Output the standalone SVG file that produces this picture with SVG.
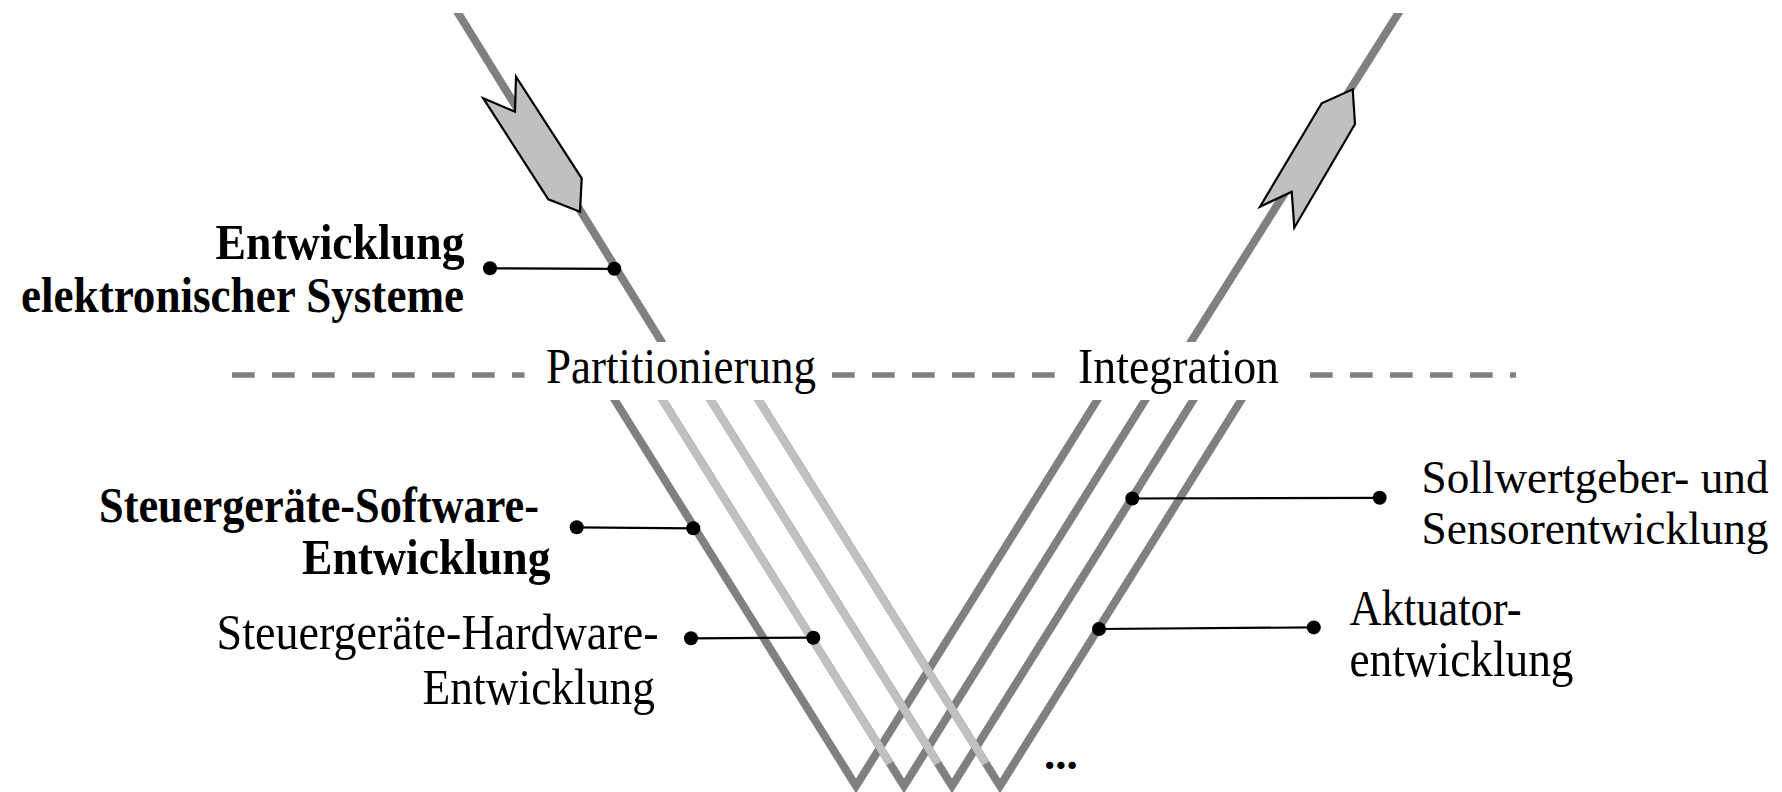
<svg xmlns="http://www.w3.org/2000/svg" width="1782" height="792" viewBox="0 0 1782 792">
  <style>
    .lbl { font-family: "Liberation Serif", "Times New Roman", serif; font-size: 51px; fill: #000; }
    .bold { font-weight: bold; }
    .edge { font-size: 46px; }
    .dark { fill: none; stroke: #808080; stroke-width: 8; stroke-linejoin: miter; stroke-miterlimit: 10; }
    .light { fill: none; stroke: #c0c0c0; stroke-width: 8; }
    .dash { stroke: #808080; stroke-width: 5.3; stroke-dasharray: 22.7 17.3; }
    .arrow { fill: #c0c0c0; stroke: #000; stroke-width: 2.2; stroke-linejoin: miter; }
    .lead { stroke: #000; stroke-width: 2.2; }
    .dot { fill: #000; }
  </style>
  <defs>
    <clipPath id="clipUpper"><rect x="0" y="13" width="1782" height="329"/></clipPath>
    <clipPath id="clipLower"><rect x="0" y="400" width="1782" height="392"/></clipPath>
  </defs>

  <!-- system level: descending and ascending branches with direction arrows -->
  <g id="system-branches" clip-path="url(#clipUpper)">
    <line class="dark" x1="450" y1="0" x2="666.6" y2="350"/>
    <line class="dark" x1="1406.7" y1="0" x2="1185.8" y2="350"/>
  </g>
  <g id="arrow-down">
    <polygon class="arrow" points="483.3,98.3 515,111.7 516,76.7 581.7,178.3 580,211.7 548.3,199.3"/>
  </g>
  <g id="arrow-up">
    <polygon class="arrow" points="1260,206.7 1291.7,191.7 1294.3,227.7 1355,124 1352.7,89.3 1321.7,103.3"/>
  </g>

  <!-- boundary between system level and component level -->
  <g id="boundary">
    <line class="dash" x1="232" y1="375" x2="524.5" y2="375"/>
    <line class="dash" x1="832" y1="375" x2="1055" y2="375"/>
    <line class="dash" x1="1310" y1="375" x2="1516" y2="375"/>
  </g>
  <g id="label-partitionierung"><text class="lbl" x="546" y="382.5" textLength="270" lengthAdjust="spacingAndGlyphs">Partitionierung</text></g>
  <g id="label-integration"><text class="lbl" x="1078" y="382.5" textLength="201" lengthAdjust="spacingAndGlyphs">Integration</text></g>

  <!-- component level: four parallel V branches -->
  <g id="component-branches" clip-path="url(#clipLower)">
    <polyline class="dark" points="611.6,395 856,786 1100.4,395"/>
    <polyline class="dark" points="659.6,395 904,786 1148.4,395"/>
    <polyline class="dark" points="707.6,395 952,786 1196.4,395"/>
    <polyline class="dark" points="755.6,395 1000,786 1244.4,395"/>
    <line class="light" x1="659.6" y1="395" x2="890" y2="763.4"/>
    <line class="light" x1="707.6" y1="395" x2="938" y2="763.4"/>
    <line class="light" x1="755.6" y1="395" x2="986" y2="763.4"/>
  </g>

  <g id="label-system">
    <text class="lbl bold" x="215.5" y="258.5" textLength="249" lengthAdjust="spacingAndGlyphs">Entwicklung</text>
    <text class="lbl bold" x="21" y="311.5" textLength="443" lengthAdjust="spacingAndGlyphs">elektronischer Systeme</text>
  </g>
  <g id="label-software">
    <text class="lbl bold" x="99" y="521.5" textLength="440" lengthAdjust="spacingAndGlyphs">Steuergeräte-Software-</text>
    <text class="lbl bold" x="302" y="573.5" textLength="248.5" lengthAdjust="spacingAndGlyphs">Entwicklung</text>
  </g>
  <g id="label-hardware">
    <text class="lbl" x="216.5" y="648.5" textLength="442" lengthAdjust="spacingAndGlyphs">Steuergeräte-Hardware-</text>
    <text class="lbl" x="422.5" y="703.5" textLength="232.5" lengthAdjust="spacingAndGlyphs">Entwicklung</text>
  </g>
  <g id="label-sensor">
    <text class="lbl edge" x="1421.5" y="493" textLength="347" lengthAdjust="spacingAndGlyphs">Sollwertgeber- und</text>
    <text class="lbl edge" x="1421.5" y="544" textLength="347" lengthAdjust="spacingAndGlyphs">Sensorentwicklung</text>
  </g>
  <g id="label-aktuator">
    <text class="lbl" x="1349.5" y="624.5" textLength="172" lengthAdjust="spacingAndGlyphs">Aktuator-</text>
    <text class="lbl" x="1349.5" y="675.5" textLength="224" lengthAdjust="spacingAndGlyphs">entwicklung</text>
  </g>
  <g id="label-more">
    <text class="lbl bold" x="1044" y="769" style="font-size:45px">...</text>
  </g>

  <!-- leader lines from labels to their branches -->
  <g id="connectors">
    <line class="lead" x1="490" y1="268.3" x2="614.3" y2="268.8"/>
    <circle class="dot" cx="490" cy="268.3" r="7"/>
    <circle class="dot" cx="614.3" cy="268.8" r="7"/>

    <line class="lead" x1="576.7" y1="527.3" x2="693.3" y2="528.3"/>
    <circle class="dot" cx="576.7" cy="527.3" r="7"/>
    <circle class="dot" cx="693.3" cy="528.3" r="7"/>

    <line class="lead" x1="691" y1="638.3" x2="813.3" y2="637.7"/>
    <circle class="dot" cx="691" cy="638.3" r="7"/>
    <circle class="dot" cx="813.3" cy="637.7" r="7"/>

    <line class="lead" x1="1132.3" y1="498.5" x2="1379.7" y2="497.8"/>
    <circle class="dot" cx="1132.3" cy="498.5" r="7"/>
    <circle class="dot" cx="1379.7" cy="497.8" r="7"/>

    <line class="lead" x1="1099" y1="629" x2="1313.8" y2="627.4"/>
    <circle class="dot" cx="1099" cy="629" r="7"/>
    <circle class="dot" cx="1313.8" cy="627.4" r="7"/>
  </g>
</svg>
